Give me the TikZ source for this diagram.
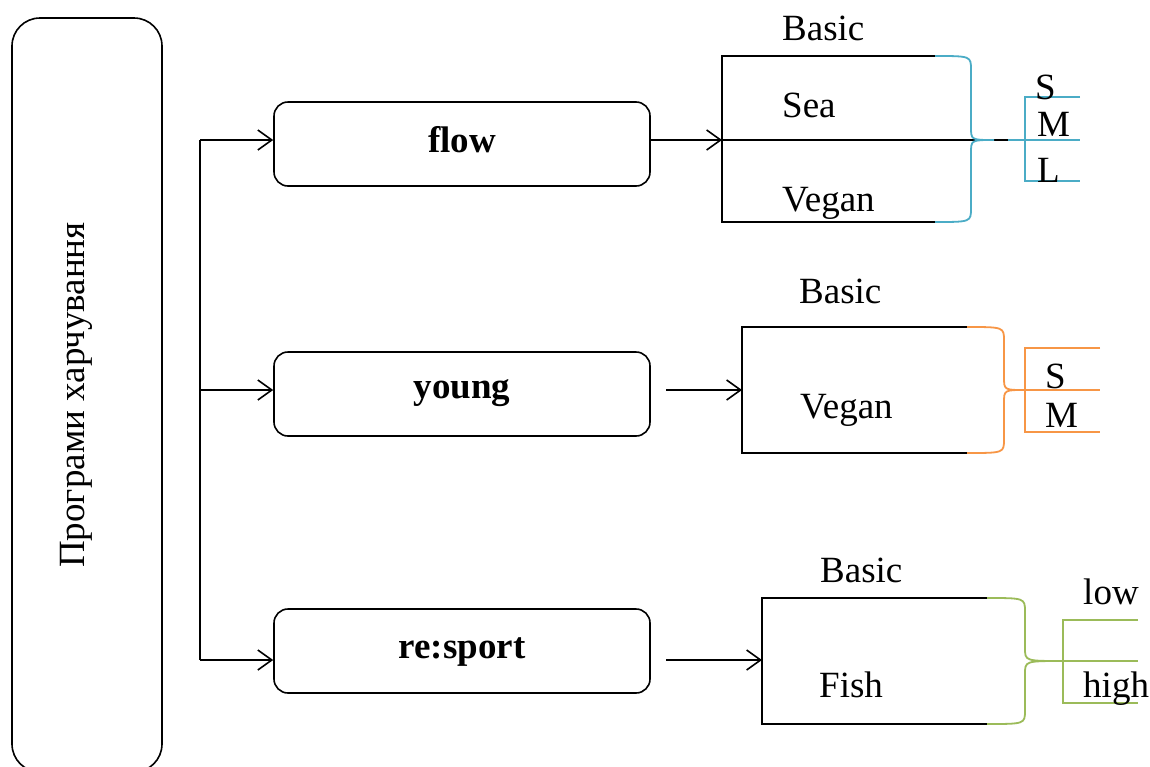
\documentclass[tikz,border=0pt]{standalone}
\usepackage{fontspec}
\setmainfont{Liberation Serif}
\usetikzlibrary{arrows.meta}
\definecolor{accblue}{HTML}{4BACC6}
\definecolor{accorange}{HTML}{F79646}
\definecolor{accgreen}{HTML}{9BBB59}
\begin{document}
\begin{tikzpicture}[x=1pt,y=-1pt,
  ln/.style={line width=1.6pt},
  arr/.style={ln,-{Straight Barb[length=14pt,width=20pt,line width=1.6pt]}},
  lbl/.style={font=\fontsize{37}{40}\selectfont, inner sep=0pt, anchor=base west},
  boldlbl/.style={font=\fontsize{37}{40}\selectfont\bfseries, inner sep=0pt, anchor=base},
  midbox/.style={draw, ln, rounded corners=14pt, minimum width=376pt, minimum height=84pt},
  sizeline/.style={line width=1.8pt}]
\clip (0,0) rectangle (1150,766);

% programme column
\node[draw, ln, rounded corners=28pt, minimum width=150pt, minimum height=754pt, inner sep=0pt] (prog) at (87,395) {};
\node[rotate=90, font=\fontsize{37}{40}\selectfont] (progtext) at (76,395) {Програми харчування};

% programme boxes
\node[midbox] (flow) at (462,144) {};
\node[midbox] (young) at (462,394) {};
\node[midbox] (sport) at (462,651) {};
\node[boldlbl] (flowtext) at (462,152) {flow};
\node[boldlbl] (youngtext) at (462,398) {young};
\node[boldlbl] (sporttext) at (462,658) {re:sport};

% trunk
\coordinate (t1) at (200,140);
\coordinate (t2) at (200,390);
\coordinate (t3) at (200,660);
\draw[ln] (t1) -- (t3);
\draw[arr] (t1) -- (t1 -| flow.west);
\draw[arr] (t2) -- (t2 -| young.west);
\draw[arr] (t3) -- (t3 -| sport.west);

% ---- flow menu ----
\coordinate (fin) at (722,140);
\draw[arr] (fin -| flow.east) -- (fin);
\draw[ln] (935,56) -- (722,56) -- (722,222) -- (935,222);
\draw[ln] (fin) -- (1008,140);
\draw[sizeline, accblue] (935,56) .. controls (971,56) .. (971,70) -- (971,127)
  .. controls (971,140) .. (994,140) .. controls (971,140) .. (971,153) -- (971,208)
  .. controls (971,222) .. (935,222);
\draw[sizeline, accblue] (1008,140) -- (1080,140);
\draw[sizeline, accblue] (1080,97) -- (1025,97) -- (1025,181) -- (1080,181);
\node[lbl] (fbasic) at (782,40) {Basic};
\node[lbl] (fsea) at (782,117) {Sea};
\node[lbl] (fvegan) at (782,211) {Vegan};
\node[lbl] (fs) at (1035,99) {S};
\node[lbl] (fm) at (1037,136) {M};
\node[lbl] (fl) at (1037,182) {L};

% ---- young menu ----
\coordinate (ys) at (666,390);
\coordinate (yin) at (742,390);
\draw[arr] (ys) -- (yin);
\draw[ln] (967,327) -- (742,327) -- (742,453) -- (967,453);
\draw[sizeline, accorange] (967,327) .. controls (1004,327) .. (1004,341) -- (1004,377)
  .. controls (1004,390) .. (1025,390) .. controls (1004,390) .. (1004,403) -- (1004,439)
  .. controls (1004,453) .. (967,453);
\draw[sizeline, accorange] (1025,390) -- (1100,390);
\draw[sizeline, accorange] (1100,348) -- (1025,348) -- (1025,432) -- (1100,432);
\node[lbl] (ybasic) at (799,303) {Basic};
\node[lbl] (yvegan) at (800,418) {Vegan};
\node[lbl] (ysm) at (1045,388) {S};
\node[lbl] (ymd) at (1045,427) {M};

% ---- re:sport menu ----
\coordinate (ss) at (666,660);
\coordinate (sin) at (762,660);
\draw[arr] (ss) -- (sin);
\draw[ln] (987,598) -- (762,598) -- (762,724) -- (987,724);
\draw[sizeline, accgreen] (987,598) .. controls (1025,598) .. (1025,612) -- (1025,648)
  .. controls (1025,661) .. (1063,661) .. controls (1025,661) .. (1025,674) -- (1025,710)
  .. controls (1025,724) .. (987,724);
\draw[sizeline, accgreen] (1063,661) -- (1138,661);
\draw[sizeline, accgreen] (1138,620) -- (1063,620) -- (1063,703) -- (1138,703);
\node[lbl] (sbasic) at (820,582) {Basic};
\node[lbl] (sfish) at (819,697) {Fish};
\node[lbl] (slow) at (1083,604) {low};
\node[lbl] (shigh) at (1083,697) {high};
\end{tikzpicture}
\end{document}
